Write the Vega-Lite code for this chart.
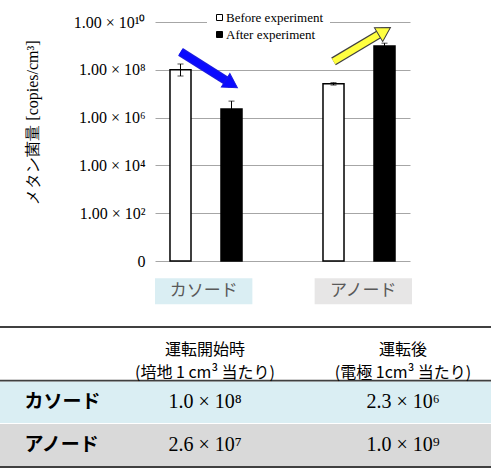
{
  "$schema": "https://vega.github.io/schema/vega-lite/v6.json",
  "width": 255,
  "height": 239,
  "padding": {"left": 155, "top": 22, "right": 81, "bottom": 207},
  "autosize": {"type": "none"},
  "background": "white",
  "config": {"view": {"stroke": null}, "axis": {"labelFont": "Liberation Serif", "titleFont": "Liberation Serif"}},
  "datasets": {
    "bars": [
      {"group": "カソード", "phase": "Before experiment", "value": 100000000, "lo": 55000000, "hi": 175000000},
      {"group": "カソード", "phase": "After experiment", "value": 2300000, "lo": 1100000, "hi": 4900000},
      {"group": "アノード", "phase": "Before experiment", "value": 26000000, "lo": 23000000, "hi": 29000000},
      {"group": "アノード", "phase": "After experiment", "value": 1000000000, "lo": 770000000, "hi": 1300000000}
    ],
    "arrows": [
      {"group": "カソード", "phase": "Before experiment", "level": 560000000, "trend": "decrease"},
      {"group": "カソード", "phase": "After experiment", "level": 25500000, "trend": "decrease"},
      {"group": "アノード", "phase": "Before experiment", "level": 224000000, "trend": "increase"},
      {"group": "アノード", "phase": "After experiment", "level": 4200000000, "trend": "increase"}
    ],
    "groups": [{"group": "カソード"}, {"group": "アノード"}],
    "rows": [
      {"row": "アノード"},
      {"row": "カソード"}
    ],
    "headrow": [{"row": "header"}],
    "cells": [
      {"row": "header", "col": "before", "text": "運転開始時\n(培地 1 cm³ 当たり)"},
      {"row": "header", "col": "after", "text": "運転後\n(電極 1cm³ 当たり)"},
      {"row": "カソード", "col": "before", "text": "1.0 × 10⁸"},
      {"row": "カソード", "col": "after", "text": "2.3 × 10⁶"},
      {"row": "アノード", "col": "before", "text": "2.6 × 10⁷"},
      {"row": "アノード", "col": "after", "text": "1.0 × 10⁹"}
    ]
  },
  "layer": [
    {
      "layer": [
        {
          "data": {"name": "bars"},
          "mark": {"type": "bar", "stroke": "black", "strokeWidth": 1.5},
          "encoding": {
            "x": {"field": "group", "type": "nominal", "scale": {"domain": ["カソード", "アノード"], "paddingInner": 0.5, "paddingOuter": 0.0833}, "axis": null},
            "xOffset": {"field": "phase", "type": "nominal", "scale": {"domain": ["Before experiment", "After experiment"], "paddingInner": 0.588, "paddingOuter": 0.044}},
            "y": {
              "field": "value", "type": "quantitative",
              "scale": {"type": "log", "domain": [1, 10000000000], "nice": false},
              "axis": {
                "values": [1, 100, 10000, 1000000, 100000000, 10000000000],
                "labelExpr": "datum.value == 1 ? '0' : datum.value == 100 ? '1.00 × 10²' : datum.value == 10000 ? '1.00 × 10⁴' : datum.value == 1000000 ? '1.00 × 10⁶' : datum.value == 100000000 ? '1.00 × 10⁸' : '1.00 × 10¹⁰'",
                "grid": true, "gridColor": "#a6a6a6", "gridWidth": 1,
                "domain": false, "ticks": false,
                "labelFont": "Liberation Serif", "labelFontSize": 16, "labelColor": "#000000", "labelPadding": 10,
                "title": "メタン菌量 [copies/cm³]",
                "titleFont": "Liberation Serif", "titleFontSize": 16, "titleFontWeight": "normal", "titleColor": "#000000",
                "titleX": -123, "titleY": 100, "titleAngle": 270, "titleBaseline": "middle", "titleAlign": "center"
              }
            },
            "y2": {"datum": 1},
            "fill": {
              "field": "phase", "type": "nominal",
              "scale": {"domain": ["Before experiment", "After experiment"], "range": ["white", "black"]},
              "legend": {
                "orient": "none", "legendX": 52, "legendY": -17, "title": null,
                "fillColor": "white", "padding": 6, "symbolType": "square", "symbolSize": 36,
                "symbolStrokeColor": "black", "symbolStrokeWidth": 1,
                "labelFont": "Liberation Serif", "labelFontSize": 13, "labelColor": "#000000",
                "rowPadding": 3, "labelOffset": 0
              }
            }
          }
        },
        {
          "data": {"name": "bars"},
          "mark": {"type": "rule", "color": "black", "strokeWidth": 1},
          "encoding": {
            "x": {"field": "group", "type": "nominal"},
            "xOffset": {"field": "phase", "type": "nominal"},
            "y": {"field": "lo", "type": "quantitative", "scale": {"type": "log", "domain": [1, 10000000000], "nice": false}},
            "y2": {"field": "hi"}
          }
        },
        {
          "data": {"name": "bars"},
          "mark": {"type": "tick", "orient": "horizontal", "thickness": 1, "color": "black"},
          "encoding": {
            "x": {"field": "group", "type": "nominal"},
            "xOffset": {"field": "phase", "type": "nominal"},
            "y": {"field": "hi", "type": "quantitative", "scale": {"type": "log", "domain": [1, 10000000000], "nice": false}},
            "size": {"value": 6}
          }
        },
        {
          "data": {"name": "bars"},
          "mark": {"type": "tick", "orient": "horizontal", "thickness": 1, "color": "black"},
          "encoding": {
            "x": {"field": "group", "type": "nominal"},
            "xOffset": {"field": "phase", "type": "nominal"},
            "y": {"field": "lo", "type": "quantitative", "scale": {"type": "log", "domain": [1, 10000000000], "nice": false}},
            "size": {"value": 6}
          }
        },
        {
          "data": {"name": "arrows"},
          "mark": {"type": "line", "strokeWidth": 9, "strokeCap": "butt"},
          "encoding": {
            "x": {"field": "group", "type": "nominal"},
            "xOffset": {"field": "phase", "type": "nominal"},
            "y": {"field": "level", "type": "quantitative", "scale": {"type": "log", "domain": [1, 10000000000], "nice": false}},
            "detail": {"field": "trend"},
            "stroke": {"field": "trend", "type": "nominal", "scale": {"domain": ["decrease", "increase"], "range": ["#1a1ae0", "#404040"]}, "legend": null}
          }
        },
        {
          "data": {"name": "arrows"},
          "mark": {"type": "line", "strokeWidth": 6.5, "strokeCap": "butt"},
          "encoding": {
            "x": {"field": "group", "type": "nominal"},
            "xOffset": {"field": "phase", "type": "nominal"},
            "y": {"field": "level", "type": "quantitative", "scale": {"type": "log", "domain": [1, 10000000000], "nice": false}},
            "detail": {"field": "trend"},
            "color": {"field": "trend", "type": "nominal", "scale": {"domain": ["decrease", "increase"], "range": ["#0a0aff", "#ffff40"]}, "legend": null}
          }
        },
        {
          "data": {"name": "arrows"},
          "transform": [{"filter": "datum.phase == 'After experiment'"}],
          "mark": {"type": "point", "shape": "triangle-right", "size": 256, "filled": true, "opacity": 1, "strokeWidth": 1},
          "encoding": {
            "x": {"field": "group", "type": "nominal"},
            "xOffset": {"field": "phase", "type": "nominal"},
            "y": {"field": "level", "type": "quantitative", "scale": {"type": "log", "domain": [1, 10000000000], "nice": false}},
            "color": {"field": "trend", "type": "nominal", "legend": null},
            "stroke": {"field": "trend", "type": "nominal", "legend": null},
            "angle": {"field": "trend", "type": "nominal", "scale": {"domain": ["decrease", "increase"], "range": [32, 329]}, "legend": null}
          }
        }
      ]
    },
    {
      "data": {"name": "groups"},
      "layer": [
        {
          "mark": {"type": "bar"},
          "encoding": {
            "x": {"field": "group", "type": "nominal", "scale": {"domain": ["カソード", "アノード"], "range": [0, 257], "paddingInner": 0.39, "paddingOuter": 0}, "axis": null},
            "y": {"datum": 0.189, "type": "quantitative", "scale": {"type": "log", "domain": [1, 10000000000], "nice": false}, "axis": null},
            "y2": {"datum": 0.0155},
            "color": {"field": "group", "type": "nominal", "scale": {"domain": ["カソード", "アノード"], "range": ["#daeef3", "#e7e6e6"]}, "legend": null}
          }
        },
        {
          "mark": {"type": "text", "font": "Noto Sans CJK JP", "fontSize": 17, "color": "#595959", "baseline": "middle"},
          "encoding": {
            "x": {"field": "group", "type": "nominal"},
            "y": {"datum": 0.054, "type": "quantitative"},
            "text": {"field": "group"}
          }
        }
      ]
    },
    {
      "layer": [
        {
          "data": {"name": "rows"},
          "mark": {"type": "rect", "strokeWidth": 1.8},
          "encoding": {
            "x": {"datum": "all", "type": "nominal", "scale": {"domain": ["all"], "range": [-160, 341], "paddingInner": 0, "paddingOuter": 0}, "axis": null},
            "y": {
              "field": "row", "type": "nominal",
              "scale": {"domain": ["header", "カソード", "アノード"], "range": [305, 445], "paddingInner": 0, "paddingOuter": 0.1216, "align": 1},
              "axis": {
                "orient": "left", "labelAlign": "left", "labelPadding": 131, "domain": false, "ticks": false, "grid": false, "title": null,
                "labelFont": "Noto Sans CJK JP", "labelFontWeight": "bold", "labelFontSize": 19, "labelColor": "#000000",
                "labelExpr": "datum.value == 'header' ? '' : datum.value", "zindex": 1
              }
            },
            "color": {"field": "row", "type": "nominal", "scale": {"domain": ["header", "カソード", "アノード"], "range": ["#ffffff", "#daeef3", "#d9d9d9"]}, "legend": null},
            "stroke": {"field": "row", "type": "nominal", "scale": {"domain": ["header", "カソード", "アノード"], "range": ["#404040", "#ffffff", "#404040"]}, "legend": null}
          }
        },
        {
          "data": {"name": "headrow"},
          "mark": {"type": "rect", "strokeWidth": 1.8, "fill": "#ffffff", "stroke": "#404040", "height": 53.67, "yOffset": -5.27},
          "encoding": {
            "x": {"datum": "all", "type": "nominal", "scale": {"domain": ["all"], "range": [-160, 341], "paddingInner": 0, "paddingOuter": 0}, "axis": null},
            "y": {"field": "row", "type": "nominal"}
          }
        },
        {
          "data": {"name": "cells"},
          "transform": [{"filter": "datum.row == 'header'"}],
          "mark": {"type": "text", "font": "Noto Sans CJK JP", "fontSize": 16, "color": "#000000", "lineBreak": "\n", "lineHeight": 23, "baseline": "middle", "dy": -9},
          "encoding": {
            "x": {"field": "col", "type": "nominal", "scale": {"domain": ["before", "after"], "range": [-49, 347], "paddingInner": 0, "paddingOuter": 0}, "axis": null},
            "y": {"field": "row", "type": "nominal"},
            "text": {"field": "text"}
          }
        },
        {
          "data": {"name": "cells"},
          "transform": [{"filter": "datum.row != 'header'"}],
          "mark": {"type": "text", "font": "Liberation Serif", "fontSize": 20, "color": "#000000", "baseline": "middle"},
          "encoding": {
            "x": {"field": "col", "type": "nominal", "scale": {"domain": ["before", "after"], "range": [-49, 347], "paddingInner": 0, "paddingOuter": 0}, "axis": null},
            "y": {"field": "row", "type": "nominal"},
            "text": {"field": "text"}
          }
        }
      ],
      "resolve": {"scale": {"x": "independent"}}
    }
  ],
  "resolve": {
    "scale": {"x": "independent", "y": "independent", "color": "independent", "fill": "independent", "stroke": "independent"}
  }
}
